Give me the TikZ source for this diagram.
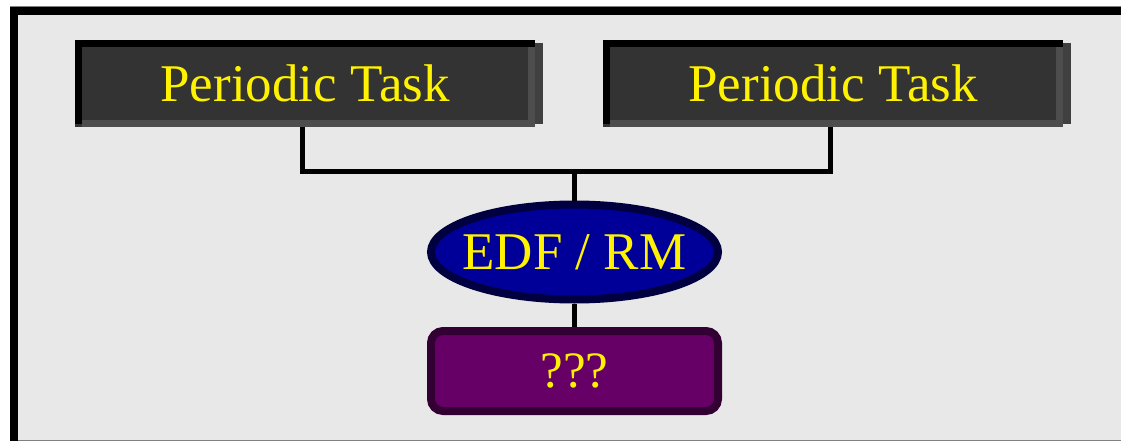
\documentclass[tikz,border=0pt]{standalone}
\usepackage{fontspec}
\setmainfont{Liberation Serif}
\usepackage{tikz}
\usetikzlibrary{positioning,shapes.geometric,calc}
\usepackage{xcolor}
\definecolor{PanelGray}{RGB}{232,232,232}
\definecolor{TaskGray}{RGB}{51,51,51}
\definecolor{TaskEdge}{RGB}{77,77,77}
\definecolor{TaskShade}{RGB}{64,64,64}
\definecolor{SchedBlue}{RGB}{0,0,153}
\definecolor{SchedEdge}{RGB}{0,0,64}
\definecolor{OpenPurple}{RGB}{102,0,102}
\definecolor{OpenEdge}{RGB}{51,0,51}

\begin{document}
\begin{tikzpicture}[
  x=1pt, y=-1pt,
  every node/.style={font=\fontsize{53}{60}\selectfont, text=yellow, inner sep=0pt, outer sep=0pt},
  taskbox/.style={fill=TaskGray, minimum width=460pt, minimum height=87pt},
  schedbox/.style={ellipse, draw=SchedEdge, fill=SchedBlue, line width=8pt, inner xsep=-12pt, minimum width=287pt, minimum height=95pt},
  openbox/.style={draw=OpenEdge, fill=OpenPurple, line width=8pt, rounded corners=12pt, minimum width=287pt, minimum height=80pt},
  link/.style={line width=5pt, black}
]
\useasboundingbox (0,0) rectangle (1121,441);
\fill[white] (0,0) rectangle (1121,441);
% panel
\filldraw[fill=PanelGray, draw=gray, line width=1pt] (10,7) rectangle (1130,440);
\draw[line width=8pt, black] (14,445) -- (14,11) -- (1130,11);

% task boxes
\node[taskbox] (task1) at (305,83.5) {};
\node[taskbox] (task2) at (833,83.5) {};
\foreach \t in {task1,task2}{
  \fill[TaskShade] ([yshift=-3pt]\t.north east) rectangle ([xshift=8pt,yshift=3pt]\t.south east);
  \fill[TaskEdge] ([xshift=7pt,yshift=7pt]\t.south west) rectangle (\t.south east);
  \fill[TaskEdge] ([xshift=-7pt,yshift=-7pt]\t.north east) rectangle (\t.south east);
  \fill[black] (\t.north west) rectangle ([yshift=-7pt]\t.north east);
  \fill[black] (\t.north west) rectangle ([xshift=7pt,yshift=3pt]\t.south west);
  \node at (\t) {Periodic Task};
}

% scheduler and result
\node[schedbox] (sched) at (574.5,252) {EDF / RM};
\node[openbox, font=\fontsize{51}{58}\selectfont] (unknown) at (574.5,371) {???};

% connectors
\coordinate (join) at (574.5,171);
\draw[link] ([xshift=-3pt]task1.south) |- (join) -| ([xshift=-3pt]task2.south);
\draw[link, shorten >=4pt] (join) -- (sched.north);
\draw[link, shorten <=4pt, shorten >=4pt] (sched.south) -- (unknown.north);
\end{tikzpicture}
\end{document}
